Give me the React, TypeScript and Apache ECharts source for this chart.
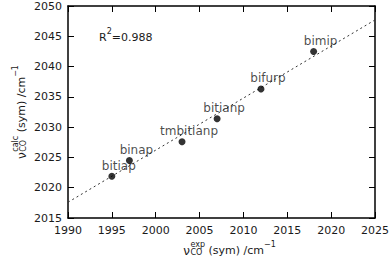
import React, { useEffect, useRef } from 'react';
import * as echarts from 'echarts';

const complexNames = ['bitiap', 'binap', 'tmbitianp', 'bitianp', 'bifurp', 'bimip'];
const expValues = [1995.0, 1997.0, 2003.0, 2007.0, 2012.0, 2018.0];
const calcValues = [2021.9, 2024.5, 2027.6, 2031.4, 2036.3, 2042.5];
const fitX = [1990, 2025];
const fitY = [2017.6, 2047.7];
const xRange = [1990, 2025];
const yRange = [2015, 2050];
const tickStep = 5;
const rSquaredText = '0.988';

const FONT = '"DejaVu Sans", sans-serif';
const TXT = '#1a1a1a';

function measure(text: string, size: number): number {
  const c = document.createElement('canvas');
  const ctx = c.getContext('2d')!;
  ctx.font = `${size}px "DejaVu Sans"`;
  return ctx.measureText(text).width;
}

type Part = { text: string; size: number; dy: number; x: number };

function titleParts(sup: string): { parts: Part[]; width: number } {
  const main = 11;
  const small = 8;
  const parts: Part[] = [];
  let x = 0;
  parts.push({ text: 'ν', size: 12, dy: 0, x });
  x += measure('ν', 12) + 0.5;
  parts.push({ text: 'CO', size: small, dy: 3, x });
  parts.push({ text: sup, size: small, dy: -5, x });
  x += Math.max(measure('CO', small), measure(sup, small));
  parts.push({ text: ' (sym) /cm', size: main, dy: 0, x });
  x += measure(' (sym) /cm', main);
  parts.push({ text: '−1', size: small, dy: -5, x });
  x += measure('−1', small);
  return { parts, width: x };
}

function partsToElements(parts: Part[], offset: number) {
  return parts.map((p) => ({
    type: 'text',
    x: p.x + offset,
    y: p.dy,
    style: {
      text: p.text,
      fontSize: p.size,
      fontFamily: FONT,
      fill: TXT,
      textBaseline: 'alphabetic',
      textAlign: 'left',
    },
  }));
}

export default function App() {
  const ref = useRef<HTMLDivElement>(null);
  useEffect(() => {
    const chart = echarts.init(ref.current!, null, { renderer: 'svg' });
    const xt = titleParts('exp');
    const yt = titleParts('calc');
    const rW = measure('R', 11);
    const axisCommon = {
      interval: tickStep,
      axisLine: { show: true, lineStyle: { color: '#000', width: 1.5 } },
      axisTick: { show: true, inside: true, length: 6, lineStyle: { color: '#000', width: 1 } },
      splitLine: { show: false },
    };
    const xAxisBase = { ...axisCommon, type: 'value', min: xRange[0], max: xRange[1] };
    const yAxisBase = { ...axisCommon, type: 'value', min: yRange[0], max: yRange[1] };
    const fmt = (v: number) => String(v);
    chart.setOption({
      animation: false,
      grid: { left: 68, right: 17, top: 6, bottom: 40 },
      xAxis: [
        {
          ...xAxisBase,
          position: 'bottom',
          axisLabel: { color: TXT, fontSize: 11, fontFamily: FONT, margin: 7, formatter: fmt },
        },
        { ...xAxisBase, position: 'top', axisLabel: { show: false } },
      ],
      yAxis: [
        {
          ...yAxisBase,
          position: 'left',
          axisLabel: { color: TXT, fontSize: 11, fontFamily: FONT, margin: 6, formatter: fmt },
        },
        { ...yAxisBase, position: 'right', axisLabel: { show: false } },
      ],
      series: [
        {
          type: 'line',
          data: fitX.map((x, i) => [x, fitY[i]]),
          showSymbol: false,
          symbol: 'none',
          lineStyle: { color: '#333', width: 1, type: [2, 3] },
          z: 1,
        },
        {
          type: 'scatter',
          data: expValues.map((x, i) => [x, calcValues[i], complexNames[i]]),
          symbolSize: 7,
          itemStyle: { color: '#000' },
          z: 3,
          label: {
            show: true,
            position: 'top',
            distance: 1,
            offset: [7, 0],
            formatter: (p: any) => p.data[2],
            color: TXT,
            fontSize: 12,
            fontFamily: FONT,
          },
        },
      ],
      graphic: [
        {
          type: 'group',
          x: 221.5 + 8,
          y: 245,
          children: partsToElements(xt.parts, -xt.width / 2),
        },
        {
          type: 'group',
          x: 16,
          y: 112,
          rotation: Math.PI / 2,
          children: partsToElements(yt.parts, -yt.width / 2),
        },
        {
          type: 'group',
          x: 99,
          y: 32,
          children: [
            { type: 'text', x: 0, y: 0, style: { text: 'R', fontSize: 11, fontFamily: FONT, fill: TXT, textBaseline: 'alphabetic' } },
            { type: 'text', x: rW, y: -5, style: { text: '2', fontSize: 8, fontFamily: FONT, fill: TXT, textBaseline: 'alphabetic' } },
            { type: 'text', x: rW + measure('2', 8), y: 0, style: { text: '=' + rSquaredText, fontSize: 11, fontFamily: FONT, fill: TXT, textBaseline: 'alphabetic' } },
          ],
        },
      ],
    });
    return () => chart.dispose();
  }, []);
  return <div ref={ref} style={{ width: 392, height: 258, position: 'absolute', left: 0, top: 0 }} />;
}
